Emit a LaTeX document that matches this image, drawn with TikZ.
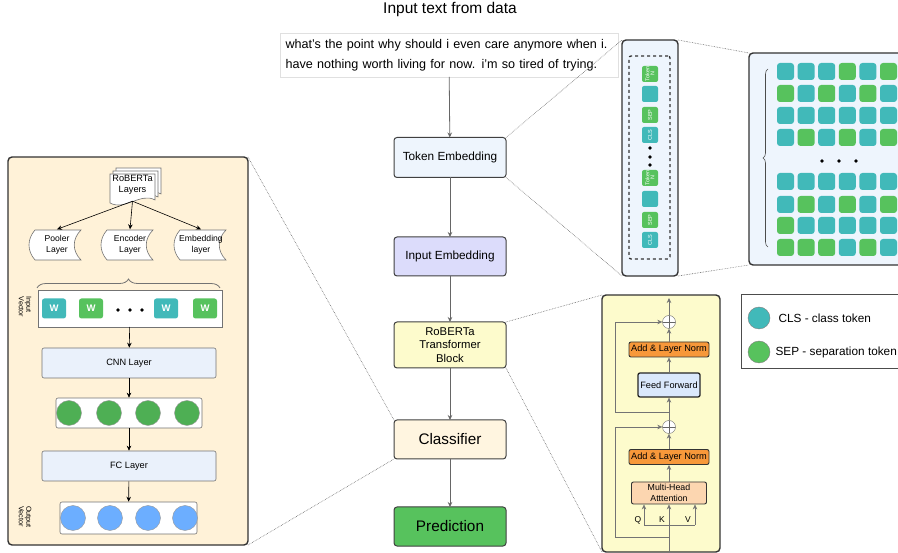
\documentclass[tikz,border=0pt]{standalone}
\usepackage{fontspec}
\setmainfont{Liberation Sans}
\usetikzlibrary{arrows.meta,decorations.pathreplacing,positioning}

% forma "stored data" (centro x,y)
\newcommand{\storeddata}[2]{%
  \draw[gris,fill=white] (#1-20,#2-15) -- (#1+26,#2-15)
    .. controls (#1+17,#2-6) and (#1+17,#2+6) .. (#1+26,#2+15)
    -- (#1-20,#2+15)
    .. controls (#1-28,#2+6) and (#1-28,#2-6) .. (#1-20,#2-15) -- cycle;}
% hoja de documento (esquina x,y)
\newcommand{\docsheet}[2]{%
  \draw[gris,fill=white] (#1,#2) -- (#1+45,#2) -- (#1+45,#2+26)
    .. controls (#1+31,#2+18) and (#1+15,#2+37) .. (#1,#2+29) -- cycle;}

\tikzset{
  gris/.style={draw=black!55,line width=0.6pt},
  caja/.style={draw=black!75,line width=1pt,rounded corners=3pt,minimum width=112pt,outer sep=0pt,align=center},
  panel/.style={draw=black!80,line width=1.4pt,rounded corners=4pt,outer sep=0pt},
  capa/.style={gris,rounded corners=2pt,fill=capaazul,minimum width=174pt,minimum height=30pt,font=\fontsize{9.2}{10}\selectfont},
  ficha/.style={rounded corners=2.5pt,minimum width=24pt,minimum height=20pt,inner sep=0pt,text=white,font=\fontsize{9.5}{10}\selectfont\bfseries},
  tok/.style={rounded corners=2pt,minimum width=16pt,minimum height=16pt,inner sep=0pt,text=white,font=\fontsize{5.5}{5}\selectfont},
  celda/.style={rounded corners=3pt,minimum width=17pt,minimum height=17pt,inner sep=0pt},
  norma/.style={draw=black!80,line width=0.9pt,rounded corners=2pt,fill=naranja,minimum width=80pt,minimum height=15pt,inner sep=0pt,font=\fontsize{9.2}{10}\selectfont},
  suma/.style={circle,draw=black!60,fill=white,minimum size=13pt,inner sep=0pt,
    path picture={\draw[black!60] (path picture bounding box.north) -- (path picture bounding box.south)
      (path picture bounding box.west) -- (path picture bounding box.east);}},
  punteada/.style={densely dotted,draw=black!60,line width=0.6pt},
  rotulo/.style={font=\fontsize{7.2}{7.5}\selectfont,align=left,rotate=-90},
  forma/.style={font=\fontsize{8.6}{10.5}\selectfont,align=center,minimum height=31pt}
}

\begin{document}
\begin{tikzpicture}[x=1pt,y=-1pt,>={Stealth[length=5pt,width=4.5pt]}]
        %colores
        \definecolor{turq}{HTML}{41B9B9}
        \definecolor{verde}{HTML}{57C25D}
        \definecolor{azulc}{HTML}{6CAEFF}
        \definecolor{capaazul}{HTML}{EAF1FB}
        \definecolor{naranja}{HTML}{F7983A}
        \definecolor{melocoton}{HTML}{FFF2D8}
        \definecolor{amarillo}{HTML}{FDFBCC}
        \definecolor{hielo}{HTML}{EEF5FD}
        \definecolor{lavanda}{HTML}{DCDCFB}
        \definecolor{celeste}{HTML}{DAE8FC}
        \colorlet{T}{turq}
        \colorlet{G}{verde}

        \useasboundingbox (0,0) rectangle (898,553);

        % titulo y texto de entrada
        \node[font=\fontsize{15.5}{17}\selectfont] (titulo) at (450,9) {Input text from data};
        \node[draw=black!12,fill=white,minimum width=338pt,minimum height=44pt,outer sep=0pt,align=left,text width=327pt,
              font=\fontsize{12.6}{20}\selectfont] (txt) at (449,55)
              {what's the point why should i even care anymore when i.\\have nothing worth living for now. i'm so tired of trying.};

        % flujo principal
        \node[caja,fill=hielo,minimum height=40pt,font=\fontsize{11.8}{13}\selectfont] (tokemb) at (450,157.5) {Token Embedding};
        \node[caja,fill=lavanda,minimum height=39pt,font=\fontsize{11.8}{13}\selectfont] (inemb) at (450,256.5) {Input Embedding};
        \node[caja,fill=amarillo,minimum height=46pt,font=\fontsize{11.3}{13.5}\selectfont] (rob) at (450,345) {RoBERTa\\Transformer\\Block};
        \node[caja,fill=melocoton!80!white,minimum height=39pt,font=\fontsize{15.3}{17}\selectfont] (clasif) at (450,439.5) {Classifier};
        \node[caja,fill=verde,minimum height=39pt,font=\fontsize{15.3}{17}\selectfont] (pred) at (450,526.5) {Prediction};
        \foreach \a/\b in {txt/tokemb, tokemb/inemb, inemb/rob, rob/clasif, clasif/pred}
            \draw[->,draw=black!60,line width=0.8pt] (\a) -- (\b);

        % panel izquierdo (clasificador)
        \node[panel,fill=melocoton,minimum width=240pt,minimum height=388pt] (lpanel) at (128,351) {};
        \foreach \d in {6,3,0}
            \docsheet{110+\d}{174-\d}
        \node[font=\fontsize{9.2}{11.5}\selectfont,align=center,minimum height=32pt,inner sep=0pt] (robl) at (132.5,185) {RoBERTa\\Layers};
        \storeddata{55}{245}
        \storeddata{127}{245}
        \storeddata{200}{245}
        \node[forma] (pool) at (57,245) {Pooler\\Layer};
        \node[forma] (enc) at (130,245) {Encoder\\Layer};
        \node[forma] (emb) at (201,245) {Embedding\\layer};
        \foreach \n in {pool,enc,emb}
            \draw[->,line width=0.6pt] (robl.south) -- (\n.north);
        \draw[gris,line width=0.8pt,decorate,decoration={brace,amplitude=9pt}] (37,288) -- (220,288);

        % vector de entrada
        \node[gris,fill=white,minimum width=184pt,minimum height=37pt,outer sep=0pt] (ivec) at (130,308.5) {};
        \foreach \x/\c in {54/T, 91/G, 166/T, 205/G}
            \node[ficha,fill=\c] (w\x) at (\x,308.5) {W};
        \foreach \x in {118,130,142}
            \fill (\x,310) circle (1.8);
        \node[rotulo] (irot) at (25,307) {Input\\Vector};

        \node[capa] (cnn) at (129,363) {CNN Layer};
        \node[gris,fill=white,rounded corners=2pt,minimum width=146pt,minimum height=30pt] (gbox) at (129,413) {};
        \foreach \x in {69,109,148,187}
            \node[circle,draw=black!40,fill=verde!90!black,minimum size=25pt,inner sep=0pt] (g\x) at (\x,413) {};
        \node[capa] (fc) at (129,466) {FC Layer};
        \node[gris,fill=white,rounded corners=2pt,minimum width=137pt,minimum height=32pt] (bbox) at (128.5,518) {};
        \foreach \x in {73,110,148,185}
            \node[circle,draw=black!40,fill=azulc,minimum size=25pt,inner sep=0pt] (b\x) at (\x,518) {};
        \node[rotulo] (orot) at (25,517) {Output\\Vector};
        \foreach \a/\b in {ivec/cnn, cnn/gbox, gbox/fc, fc/bbox}
            \draw[->,line width=0.6pt] (\a) -- (\b);

        % tira de tokens
        \node[panel,fill=hielo,minimum width=56pt,minimum height=236pt] (tokpanel) at (650,158) {};
        \node[draw=black!80,dashed,line width=1.3pt,rounded corners=2pt,minimum width=41pt,minimum height=203pt] (inner) at (649.5,157.5) {};
        \foreach \y/\c/\t in {74/G/{Token\\N}, 94/T/{}, 115/G/SEP, 135/T/CLS, 178/G/{Token\\N}, 199/T/{}, 220/G/SEP, 240/T/CLS}
            \node[tok,fill=\c,rotate=90,align=center] at (650,\y) {\t};
        \foreach \y in {148,157,165}
            \fill (650,\y) circle (1.8);

        % matriz de embeddings
        \node[panel,fill=hielo,minimum width=171pt,minimum height=212pt] (bpanel) at (834.5,159) {};
        \draw[black!70,line width=0.6pt,decorate,decoration={brace,amplitude=5pt}] (768,247) -- (768,69);
        \foreach \y/\a/\b/\c/\d/\e/\f in {71.5/T/T/T/G/T/G, 93.5/G/T/G/T/G/T, 115.5/T/T/T/T/T/T, 137.5/T/G/T/G/T/G,
                                        181.5/T/T/T/T/T/T, 204.5/T/G/T/G/T/G, 225.5/G/T/T/T/T/T, 247.5/G/G/G/T/G/T}
            \foreach \col [count=\i from 0] in {\a,\b,\c,\d,\e,\f}
                \node[celda,fill=\col] at (785.5+20.6*\i,\y) {};
        \foreach \x in {822,839,856}
            \fill (\x,161) circle (1.8);

        % leyenda
        \node[draw=black!70,line width=0.6pt,minimum width=179pt,minimum height=74pt] (leyenda) at (830.5,331) {};
        \node[circle,draw=black!50,fill=turq,minimum size=22pt,inner sep=0pt] (lcls) at (759,318) {};
        \node[circle,draw=black!50,fill=verde,minimum size=22pt,inner sep=0pt] (lsep) at (759,352) {};
        \node[anchor=west,font=\fontsize{11.8}{13}\selectfont] at (775,318) {CLS - class token};
        \node[anchor=west,font=\fontsize{11.8}{13}\selectfont] at (772,352) {SEP - separation token};

        % bloque transformer
        \node[panel,fill=amarillo,minimum width=118pt,minimum height=257pt] (tpanel) at (661,423.5) {};
        \node[suma] (plus1) at (669,322) {};
        \node[norma] (anl2) at (669,349.5) {Add \& Layer Norm};
        \node[draw=black!85,line width=1.3pt,rounded corners=2pt,fill=celeste,minimum width=62pt,minimum height=24pt,
              inner sep=0pt,font=\fontsize{9.2}{10}\selectfont] (ff) at (669,385) {Feed Forward};
        \node[suma] (plus2) at (669,427) {};
        \node[norma] (anl1) at (669,457) {Add \& Layer Norm};
        \node[draw=black!80,line width=0.9pt,rounded corners=2pt,fill=naranja!40!white,minimum width=75pt,minimum height=22pt,
              inner sep=0pt,align=center,font=\fontsize{8.8}{10.5}\selectfont] (mha) at (669,493) {Multi-Head\\Atttention};
        \foreach \x/\l in {638/Q, 662/K, 688/V}
            \node[font=\fontsize{8.5}{9}\selectfont] (\l) at (\x,520) {\l};

        \coordinate (arriba) at (669,298);
        \coordinate (abajo) at (669,552);
        \coordinate (qb) at (644,525);
        \coordinate (vb) at (695,525);
        \coordinate (r1) at (669,537);
        \coordinate (r1l) at (615,537);
        \coordinate (r2) at (669,412);
        \coordinate (r2l) at (615,412);
        \begin{scope}[draw=black!55,line width=0.6pt]
            \draw[->] (abajo) -- (mha);
            \draw (qb) -- (vb);
            \draw[->] (qb) -- (qb |- mha.south);
            \draw[->] (vb) -- (vb |- mha.south);
            \draw[->] (mha) -- (anl1);
            \draw[->] (anl1) -- (plus2);
            \draw[->] (plus2) -- (ff);
            \draw[->] (ff) -- (anl2);
            \draw[->] (anl2) -- (plus1);
            \draw[->] (plus1) -- (arriba);
            \draw[->] (r1) -- (r1l) |- (plus2.west);
            \draw[->] (r2) -- (r2l) |- (plus1.west);
        \end{scope}

        % lineas de detalle
        \draw[punteada] (lpanel.north east) -- (clasif.north west);
        \draw[punteada] (lpanel.south east) -- (clasif.south west);
        \draw[punteada] (tokemb.north east) -- (tokpanel.north west);
        \draw[punteada] (tokemb.south east) -- (tokpanel.south west);
        \draw[punteada] (tokpanel.north east) -- (bpanel.north west);
        \draw[punteada] (tokpanel.south east) -- (bpanel.south west);
        \draw[punteada] (rob.north east) -- (tpanel.north west);
        \draw[punteada] (rob.south east) -- (tpanel.south west);
    \end{tikzpicture}
\end{document}
